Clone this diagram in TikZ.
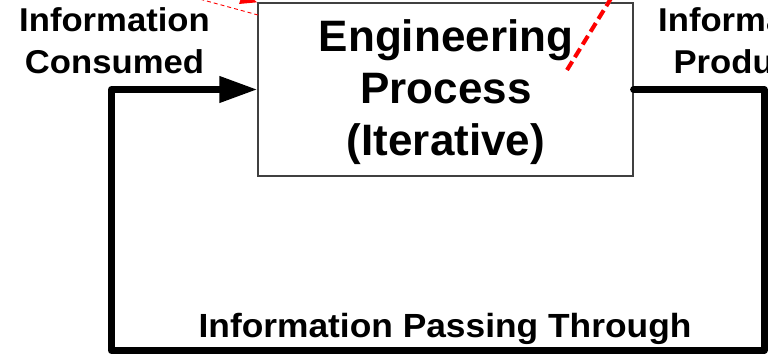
\documentclass[tikz,border=0pt]{standalone}
\usepackage{fontspec}
\setmainfont{Liberation Sans}
\usetikzlibrary{arrows.meta}
\tikzset{
  procbox/.style={draw=black!75, line width=1.2pt, fill=white, minimum width=375pt, minimum height=173pt, inner sep=0pt},
  bigtext/.style={font=\bfseries\fontsize{44}{52}\selectfont, align=center, inner sep=0pt},
  lbltext/.style={font=\bfseries\fontsize{33}{42}\selectfont, align=center, inner sep=0pt},
  loopline/.style={line width=7pt, line join=round, line cap=round},
  reddash/.style={draw=red, line width=4pt, dash pattern=on 10pt off 5pt},
  redthin/.style={draw=red, line width=0.9pt, dash pattern=on 4pt off 3pt},
}
\begin{document}
\begin{tikzpicture}[x=1pt, y=-1pt]
\useasboundingbox (0,0) rectangle (768,361);
\clip (0,0) rectangle (768,361);
\fill[white] (0,0) rectangle (768,361);
% box
\node[procbox] (proc) at (445.5,89.5) {};
\node[bigtext, anchor=base] (proctext) at (446,155) {Engineering\\Process\\(Iterative)};
% loop
\coordinate (cR) at (764,350.5);
\coordinate (cL) at (111.5,350.5);
\draw[loopline, -{Triangle[length=38pt, width=25pt]}] (proc.east) -| (cR) -- (cL) |- (proc.west);
% labels
\node[lbltext, anchor=base] (consumed) at (114.5,74) {\scalebox{1.05}[1]{Information}\\\scalebox{1.05}[1]{Consumed}};
\node[lbltext, anchor=base] (produced) at (753.5,74) {\scalebox{1.05}[1]{Information}\\\scalebox{1.05}[1]{Produced}};
\node[font=\bfseries\fontsize{33.5}{40}\selectfont, inner sep=0pt, anchor=base] (passing) at (445,337) {\scalebox{1.055}[1]{Information Passing Through}};
% red annotations
\coordinate (t1a) at (180,-6.3);
\coordinate (t1b) at (258,15);
\draw[redthin] (t1a) -- (t1b);
\coordinate (r1a) at (205,-14);
\draw[draw=red, line width=3pt, -{Triangle[length=17pt, width=13pt]}] (r1a) -- (proc.north west);
\coordinate (r2a) at (567,70);
\coordinate (r2b) at (625,-24.4);
\draw[reddash, draw=black!15, shift={(1.5pt,-2pt)}] (r2a) -- (r2b);
\draw[reddash] (r2a) -- (r2b);
\end{tikzpicture}
\end{document}
